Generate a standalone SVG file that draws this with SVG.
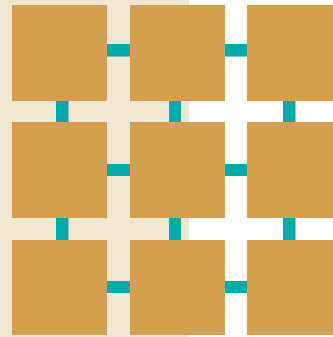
<svg xmlns="http://www.w3.org/2000/svg" width="333" height="337" viewBox="0 0 333 337">
<style>
.node{fill:#D4A04F}
.conn{fill:#00A9AA}
</style>
<rect x="0" y="0" width="333" height="337" fill="#FFFFFF"/>
<rect x="0" y="0" width="189" height="337" fill="#F0E7D3"/>
<g id="connectors">
<rect class="conn" x="106" y="44" width="25" height="12.5"/>
<rect class="conn" x="224" y="44" width="24" height="12.5"/>
<rect class="conn" x="106" y="164" width="25" height="12"/>
<rect class="conn" x="224" y="164" width="24" height="12"/>
<rect class="conn" x="106" y="281" width="25" height="12"/>
<rect class="conn" x="224" y="281" width="24" height="12"/>
<rect class="conn" x="56" y="100" width="12.5" height="23"/>
<rect class="conn" x="169" y="100" width="12" height="23"/>
<rect class="conn" x="283" y="100" width="12.5" height="23"/>
<rect class="conn" x="56" y="217" width="12.5" height="24"/>
<rect class="conn" x="169" y="217" width="12" height="24"/>
<rect class="conn" x="283" y="217" width="12.5" height="24"/>
</g>
<g id="n11"><rect class="node" x="12" y="5" width="95" height="96"/></g>
<g id="n12"><rect class="node" x="130" y="5" width="95" height="96"/></g>
<g id="n13"><rect class="node" x="247" y="5" width="95" height="96"/></g>
<g id="n21"><rect class="node" x="12" y="122" width="95" height="96"/></g>
<g id="n22"><rect class="node" x="130" y="122" width="95" height="96"/></g>
<g id="n23"><rect class="node" x="247" y="122" width="95" height="96"/></g>
<g id="n31"><rect class="node" x="12" y="240" width="95" height="95"/></g>
<g id="n32"><rect class="node" x="130" y="240" width="95" height="95"/></g>
<g id="n33"><rect class="node" x="247" y="240" width="95" height="95"/></g>
</svg>
